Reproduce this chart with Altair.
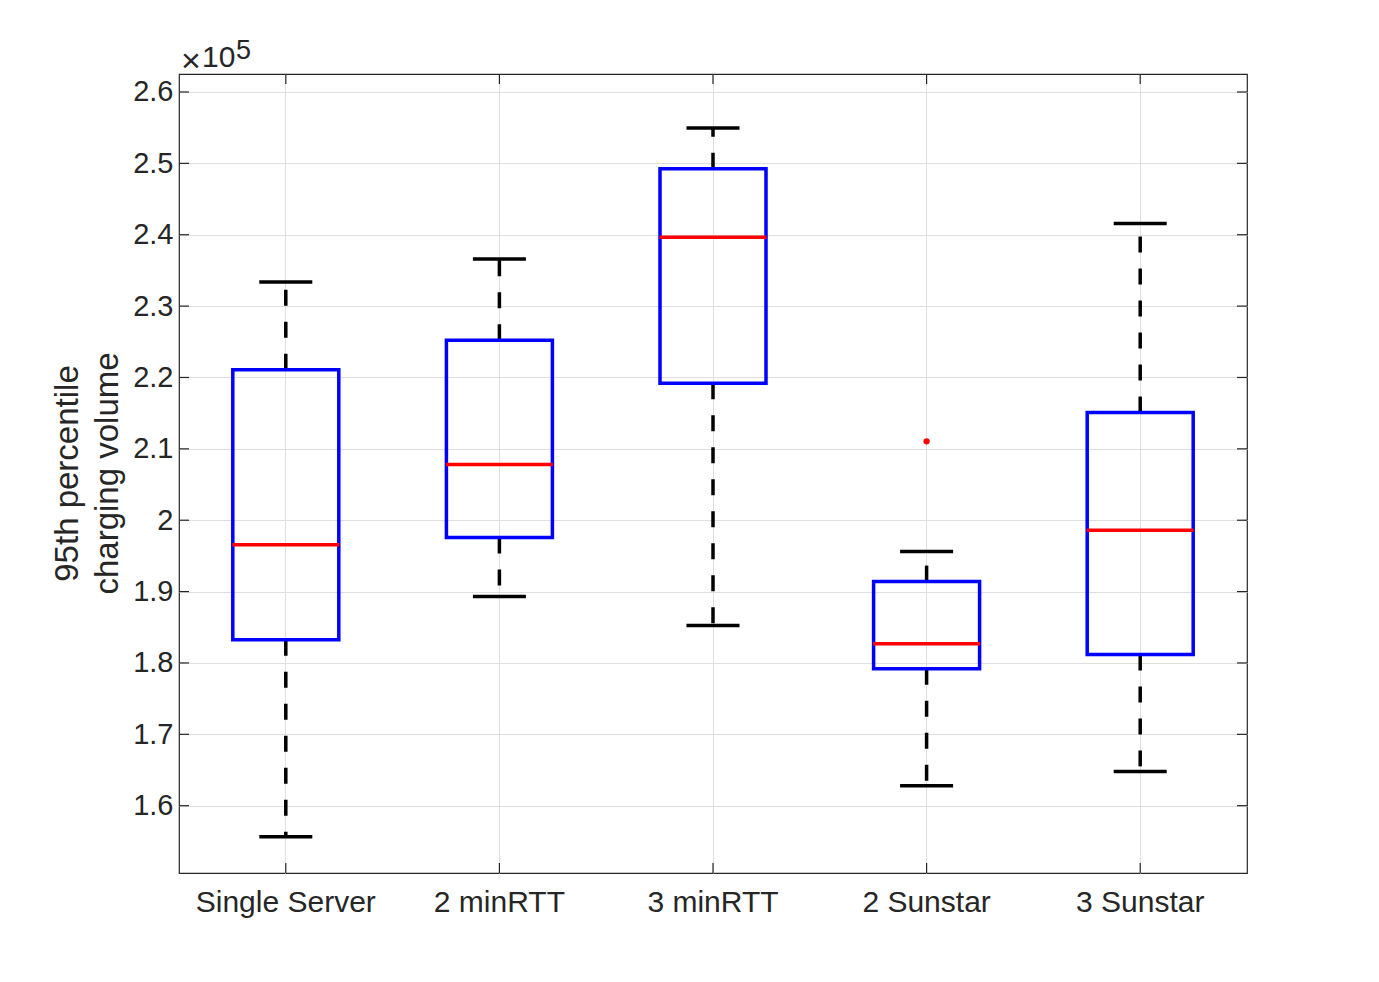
import altair as alt
import pandas as pd

# ---- data (values in units of 10^5) ----
categories = ["Single Server", "2 minRTT", "3 minRTT", "2 Sunstar", "3 Sunstar"]
lower_whisker = [1.5565, 1.8930, 1.8525, 1.6280, 1.6480]
q1 = [1.8326, 1.9759, 2.1920, 1.7920, 1.8120]
median = [1.9657, 2.0782, 2.3963, 1.8270, 1.9860]
q3 = [2.2109, 2.2520, 2.4925, 1.9140, 2.1510]
upper_whisker = [2.3338, 2.3660, 2.5496, 1.9560, 2.4159]
outlier_cat = ["2 Sunstar"]
outlier_val = [2.1105]
y_ticks = [1.6, 1.7, 1.8, 1.9, 2.0, 2.1, 2.2, 2.3, 2.4, 2.5, 2.6]
y_domain = [1.5057, 2.6252]
y_title_lines = ["95th percentile", "charging volume"]

W, H = 1068, 799
FONT = "Liberation Sans"
AX = "#262626"

df = pd.DataFrame({
    "cat": categories, "lw": lower_whisker, "q1": q1, "med": median,
    "q3": q3, "uw": upper_whisker,
})
out_df = pd.DataFrame({"cat": outlier_cat, "val": outlier_val})
yt_df = pd.DataFrame({"t": y_ticks})
xt_df = pd.DataFrame({"cat": categories})

xscale = alt.Scale(domain=categories, paddingInner=0, paddingOuter=0)
yscale = alt.Scale(domain=y_domain, nice=False, zero=False)

xax = alt.Axis(title=None, grid=True, ticks=False, domain=False,
               labelFontSize=30, labelColor=AX, labelFont=FONT, labelLimit=400,
               labelPadding=14, labelAngle=0, gridColor="#dfdfdf")
yax = alt.Axis(title=None, grid=True, ticks=False, domain=False,
               values=y_ticks, format="~g",
               labelFontSize=29, labelColor=AX, labelFont=FONT,
               labelPadding=6, gridColor="#dfdfdf")

base = alt.Chart(df)

lower = base.mark_rule(color="black", strokeWidth=3.5, strokeDash=[16, 16]).encode(
    x=alt.X("cat:N", scale=xscale, axis=xax, sort=categories),
    y=alt.Y("q1:Q", scale=yscale, axis=yax),
    y2="lw:Q",
)
upper = base.mark_rule(color="black", strokeWidth=3.5, strokeDash=[16, 16]).encode(
    x=alt.X("cat:N", sort=categories),
    y="q3:Q",
    y2="uw:Q",
)
cap_lo = base.mark_tick(color="black", size=53, thickness=3.5, opacity=1).encode(
    x=alt.X("cat:N", sort=categories), y="lw:Q"
)
cap_hi = base.mark_tick(color="black", size=53, thickness=3.5, opacity=1).encode(
    x=alt.X("cat:N", sort=categories), y="uw:Q"
)
box = base.mark_bar(size=106, fillOpacity=0, fill="white", stroke="#0000ff",
                    strokeWidth=3.5).encode(
    x=alt.X("cat:N", sort=categories), y="q1:Q", y2="q3:Q"
)
med = base.mark_tick(color="#ff0000", size=107, thickness=3.5, opacity=1).encode(
    x=alt.X("cat:N", sort=categories), y="med:Q"
)
outl = alt.Chart(out_df).mark_point(filled=True, color="#ff0000", size=40,
                                    opacity=1, shape="circle").encode(
    x=alt.X("cat:N", sort=categories), y="val:Q"
)

# inward tick marks on all four sides
ytick_l = alt.Chart(yt_df).mark_rule(color=AX, strokeWidth=1.2).encode(
    y="t:Q", x=alt.value(0), x2=alt.value(10)
)
ytick_r = alt.Chart(yt_df).mark_rule(color=AX, strokeWidth=1.2).encode(
    y="t:Q", x=alt.value(W - 10), x2=alt.value(W)
)
xtick_b = alt.Chart(xt_df).mark_rule(color=AX, strokeWidth=1.2).encode(
    x=alt.X("cat:N", sort=categories), y=alt.value(H - 10), y2=alt.value(H)
)
xtick_t = alt.Chart(xt_df).mark_rule(color=AX, strokeWidth=1.2).encode(
    x=alt.X("cat:N", sort=categories), y=alt.value(0), y2=alt.value(10)
)

# exponent label  (x 10^5)
exp_times = alt.Chart(pd.DataFrame({"s": ["\u00d7"]})).mark_text(
    font=FONT, fontSize=34, color=AX, align="left", baseline="alphabetic"
).encode(text="s:N", x=alt.value(2), y=alt.value(-2))
exp_ten = alt.Chart(pd.DataFrame({"s": ["10"]})).mark_text(
    font=FONT, fontSize=30, color=AX, align="left", baseline="alphabetic"
).encode(text="s:N", x=alt.value(23), y=alt.value(-7))
exp_sup = alt.Chart(pd.DataFrame({"s": ["5"]})).mark_text(
    font=FONT, fontSize=27, color=AX, align="left", baseline="alphabetic"
).encode(text="s:N", x=alt.value(57), y=alt.value(-15))

# y title (two lines)
yt1 = alt.Chart(pd.DataFrame({"s": [y_title_lines[0]]})).mark_text(
    font=FONT, fontSize=33, color=AX, angle=270, align="center", baseline="middle"
).encode(text="s:N", x=alt.value(-111), y=alt.value(H / 2))
yt2 = alt.Chart(pd.DataFrame({"s": [y_title_lines[1]]})).mark_text(
    font=FONT, fontSize=33, color=AX, angle=270, align="center", baseline="middle"
).encode(text="s:N", x=alt.value(-71), y=alt.value(H / 2))

chart = alt.layer(
    lower, upper, cap_lo, cap_hi, box, med, outl,
    ytick_l, ytick_r, xtick_b, xtick_t,
    exp_times, exp_ten, exp_sup, yt1, yt2,
).properties(
    width=W, height=H,
    autosize=alt.AutoSizeParams(type="none"),
    padding={"left": 171, "top": 66, "right": 120, "bottom": 100},
).configure(
    background="white"
).configure_view(
    stroke=AX, strokeWidth=1.2
)

chart.save("out.html", embed_options={"renderer": "svg", "actions": False})
